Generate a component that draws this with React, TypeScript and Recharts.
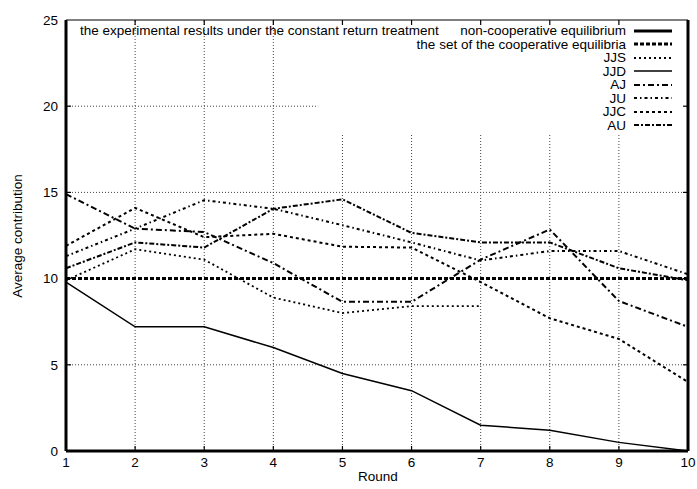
import { LineChart, Line, XAxis, YAxis, ReferenceLine } from "recharts";

const rounds = [1, 2, 3, 4, 5, 6, 7, 8, 9, 10];
const nonCoop = [0, 0, 0, 0, 0, 0, 0, 0, 0, 0];
const coop = [10, 10, 10, 10, 10, 10, 10, 10, 10, 10];
const jjs = [9.9, 11.7, 11.1, 8.9, 8.0, 8.4, 8.4, null, null, null];
const jjd = [9.8, 7.2, 7.2, 6.0, 4.5, 3.5, 1.5, 1.2, 0.5, 0.0];
const aj = [14.9, 12.9, 12.7, 10.9, 8.65, 8.65, 11.1, 12.85, 8.7, 7.2];
const ju = [11.3, 12.9, 14.55, 14.05, 13.1, 12.1, 11.05, 11.6, 11.6, 10.25];
const jjc = [11.9, 14.1, 12.4, 12.6, 11.85, 11.8, 9.8, 7.7, 6.5, 4.0];
const au = [10.6, 12.1, 11.8, 14.05, 14.6, 12.65, 12.1, 12.1, 10.6, 9.9];

const yTicks = [0, 5, 10, 15, 20, 25];

const series = [
  { key: "nonCoop", name: "non-cooperative equilibrium", width: 3, dash: undefined },
  { key: "coop", name: "the set of the cooperative equilibria", width: 3, dash: "4 2" },
  { key: "JJS", name: "JJS", width: 1.8, dash: "2 3" },
  { key: "JJD", name: "JJD", width: 1.5, dash: undefined },
  { key: "AJ", name: "AJ", width: 2, dash: "6 3 2 3" },
  { key: "JU", name: "JU", width: 2, dash: "3 3 1.5 3" },
  { key: "JJC", name: "JJC", width: 2, dash: "3 3" },
  { key: "AU", name: "AU", width: 2, dash: "5 2 2 2" },
];

const data = rounds.map((r, i) => ({
  round: r,
  nonCoop: nonCoop[i],
  coop: coop[i],
  JJS: jjs[i],
  JJD: jjd[i],
  AJ: aj[i],
  JU: ju[i],
  JJC: jjc[i],
  AU: au[i],
}));

const font = "'Liberation Sans', Arial, Helvetica, sans-serif";
const fs = 13.5;
const grid = { stroke: "#444", strokeDasharray: "1 2", strokeWidth: 1 };

// plot box edges, used only for the little inward tick marks
const TOP = 20;
const BOTTOM = 451;
const LEFT = 66;
const RIGHT = 688;

const XTick = (props: any) => {
  const { x, y, payload } = props;
  const inner = payload.value !== 1 && payload.value !== 10;
  return (
    <g>
      <text x={x} y={y} dy="0.71em" textAnchor="middle" fontSize={fs} fontFamily={font} fill="#000">
        {payload.value}
      </text>
      {inner && <line x1={x} x2={x} y1={BOTTOM} y2={BOTTOM - 5} stroke="#000" strokeWidth={1.2} />}
      {inner && <line x1={x} x2={x} y1={TOP} y2={TOP + 5} stroke="#000" strokeWidth={1.2} />}
    </g>
  );
};

const YTick = (props: any) => {
  const { x, y, payload } = props;
  const inner = payload.value !== 0 && payload.value !== 25;
  return (
    <g>
      <text x={x} y={y} dy="0.355em" textAnchor="end" fontSize={fs} fontFamily={font} fill="#000">
        {payload.value}
      </text>
      {inner && <line x1={LEFT} x2={LEFT + 5} y1={y} y2={y} stroke="#000" strokeWidth={1.2} />}
      {inner && <line x1={RIGHT} x2={RIGHT - 5} y1={y} y2={y} stroke="#000" strokeWidth={1.2} />}
    </g>
  );
};

export default function App() {
  return (
    <div style={{ position: "absolute", left: 0, top: 0, width: 697, height: 489, background: "#fff", fontFamily: font }}>
      <LineChart width={697} height={489} data={data} margin={{ top: 20, right: 9, bottom: 8, left: 26 }}>
        <XAxis
          dataKey="round"
          type="number"
          domain={[1, 10]}
          ticks={rounds}
          axisLine={false}
          tickLine={false}
          tickSize={0}
          tickMargin={6}
          height={30}
          tick={XTick}
        />
        <YAxis
          type="number"
          domain={[0, 25]}
          ticks={yTicks}
          axisLine={false}
          tickLine={false}
          tickSize={0}
          tickMargin={8}
          width={40}
          tick={YTick}
        />
        {[2, 3, 4].map((x) => (
          <ReferenceLine key={"vg" + x} x={x} {...grid} />
        ))}
        {[5, 6, 7, 8, 9].map((x) => (
          <ReferenceLine key={"vs" + x} segment={[{ x, y: 0 }, { x, y: 18.4 }]} {...grid} />
        ))}
        {[5, 10, 15].map((y) => (
          <ReferenceLine key={"hg" + y} y={y} {...grid} />
        ))}
        <ReferenceLine segment={[{ x: 1, y: 20 }, { x: 4.65, y: 20 }]} {...grid} />
        <ReferenceLine y={25} stroke="#000" strokeWidth={1} />
        <ReferenceLine x={1} stroke="#000" strokeWidth={3} />
        <ReferenceLine x={10} stroke="#000" strokeWidth={3} />
        {series.map((s) => (
          <Line
            key={s.key}
            dataKey={s.key}
            type="linear"
            stroke="#000"
            strokeWidth={s.width}
            strokeDasharray={s.dash}
            dot={false}
            isAnimationActive={false}
          />
        ))}
      </LineChart>

      <div style={{ position: "absolute", left: 70, top: 24, width: 610, fontSize: fs, lineHeight: "13.5px", color: "#000" }}>
        {series.map((s, i) => (
          <div key={s.key} style={{ display: "flex", alignItems: "center", height: 13.5 }}>
            {i === 0 && <span style={{ marginLeft: 10, whiteSpace: "nowrap" }}>the experimental results under the constant return treatment</span>}
            <span style={{ flex: 1, textAlign: "right", whiteSpace: "nowrap" }}>{s.name}</span>
            <svg width={46} height={10} style={{ marginLeft: 8 }}>
              <line x1={0} x2={38} y1={5} y2={5} stroke="#000" strokeWidth={s.width} strokeDasharray={s.dash} />
            </svg>
          </div>
        ))}
      </div>

      <div style={{ position: "absolute", left: 358, top: 469, fontSize: fs }}>Round</div>
      <div
        style={{
          position: "absolute",
          left: 17,
          top: 236,
          fontSize: fs,
          whiteSpace: "nowrap",
          transform: "translate(-50%, -50%) rotate(-90deg)",
        }}
      >
        Average contribution
      </div>
    </div>
  );
}
